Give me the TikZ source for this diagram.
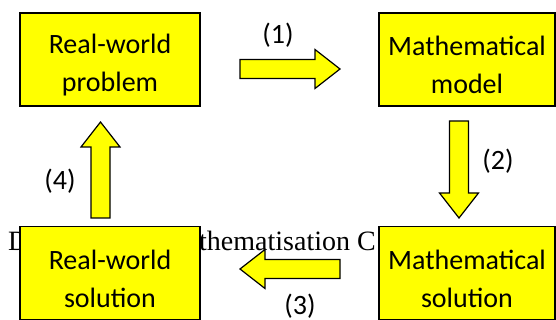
\documentclass[tikz,border=0pt]{standalone}
\usepackage{fontspec}
\setmainfont{Carlito}
\newfontfamily\capfont{Liberation Serif}
\usetikzlibrary{calc,positioning}
\definecolor{boxyellow}{RGB}{255,255,0}
\newcommand{\topstrut}{\rule{0pt}{31pt}}

% block arrow from #1 to #2
\newcommand{\blockarrow}[2]{%
  \draw[blockarrow] let \p1=($(#2)-(#1)$), \n1={atan2(\y1,\x1)}, \n2={veclen(\x1,\y1)} in
    [shift={(#1)}, rotate=\n1]
    (0,-9.5) -- (\n2-25,-9.5) -- (\n2-25,-19.5) -- (\n2,0)
    -- (\n2-25,19.5) -- (\n2-25,9.5) -- (0,9.5) -- cycle;}

\begin{document}
\begin{tikzpicture}[x=1pt, y=-1pt,
  stagebox/.style={draw=black, line width=1.4pt, fill=boxyellow, minimum width=180pt,
                   minimum height=93pt, align=center, inner sep=0pt,
                   font=\fontsize{28}{38}\selectfont},
  stageboxr/.style={stagebox, minimum width=176pt},
  steplabel/.style={inner sep=0pt, font=\fontsize{28}{34}\selectfont},
  captext/.style={inner sep=0pt, anchor=base west, font=\capfont\fontsize{28}{34}\selectfont},
  blockarrow/.style={draw=black, line width=1.2pt, fill=boxyellow},
]
\useasboundingbox (0,0) rectangle (556,320);

% caption behind the boxes
\node[captext] (capd) at (8,251) {D};
\node[captext] (capt) at (199,251) {thematisation C};

% stages
\node[stagebox]  (rwp) at (110,59.5) {\topstrut Real-world\\problem};
\node[stageboxr] (mm)  at (467,59.5) {\topstrut Mathematical\\model};
\node[stageboxr] (ms)  at (467,273)  {\topstrut Mathematical\\solution};
\node[stagebox]  (rws) at (110,273)  {\topstrut Real-world\\solution};

% arrow ends
\coordinate (a1s) at (240,69);
\coordinate (a1e) at (340,69);
\coordinate (a2s) at (459,121);
\coordinate (a2e) at (459,218);
\coordinate (a3s) at (340,269);
\coordinate (a3e) at (240,269);
\coordinate (a4s) at (100.5,218);
\coordinate (a4e) at (100.5,122);

\blockarrow{a1s}{a1e}
\blockarrow{a2s}{a2e}
\blockarrow{a3s}{a3e}
\blockarrow{a4s}{a4e}

% step labels
\node[steplabel] (l1) at (278,35)  {(1)};
\node[steplabel] (l2) at (498,161) {(2)};
\node[steplabel] (l3) at (300,306) {(3)};
\node[steplabel] (l4) at (60,181)  {(4)};

\end{tikzpicture}
\end{document}
